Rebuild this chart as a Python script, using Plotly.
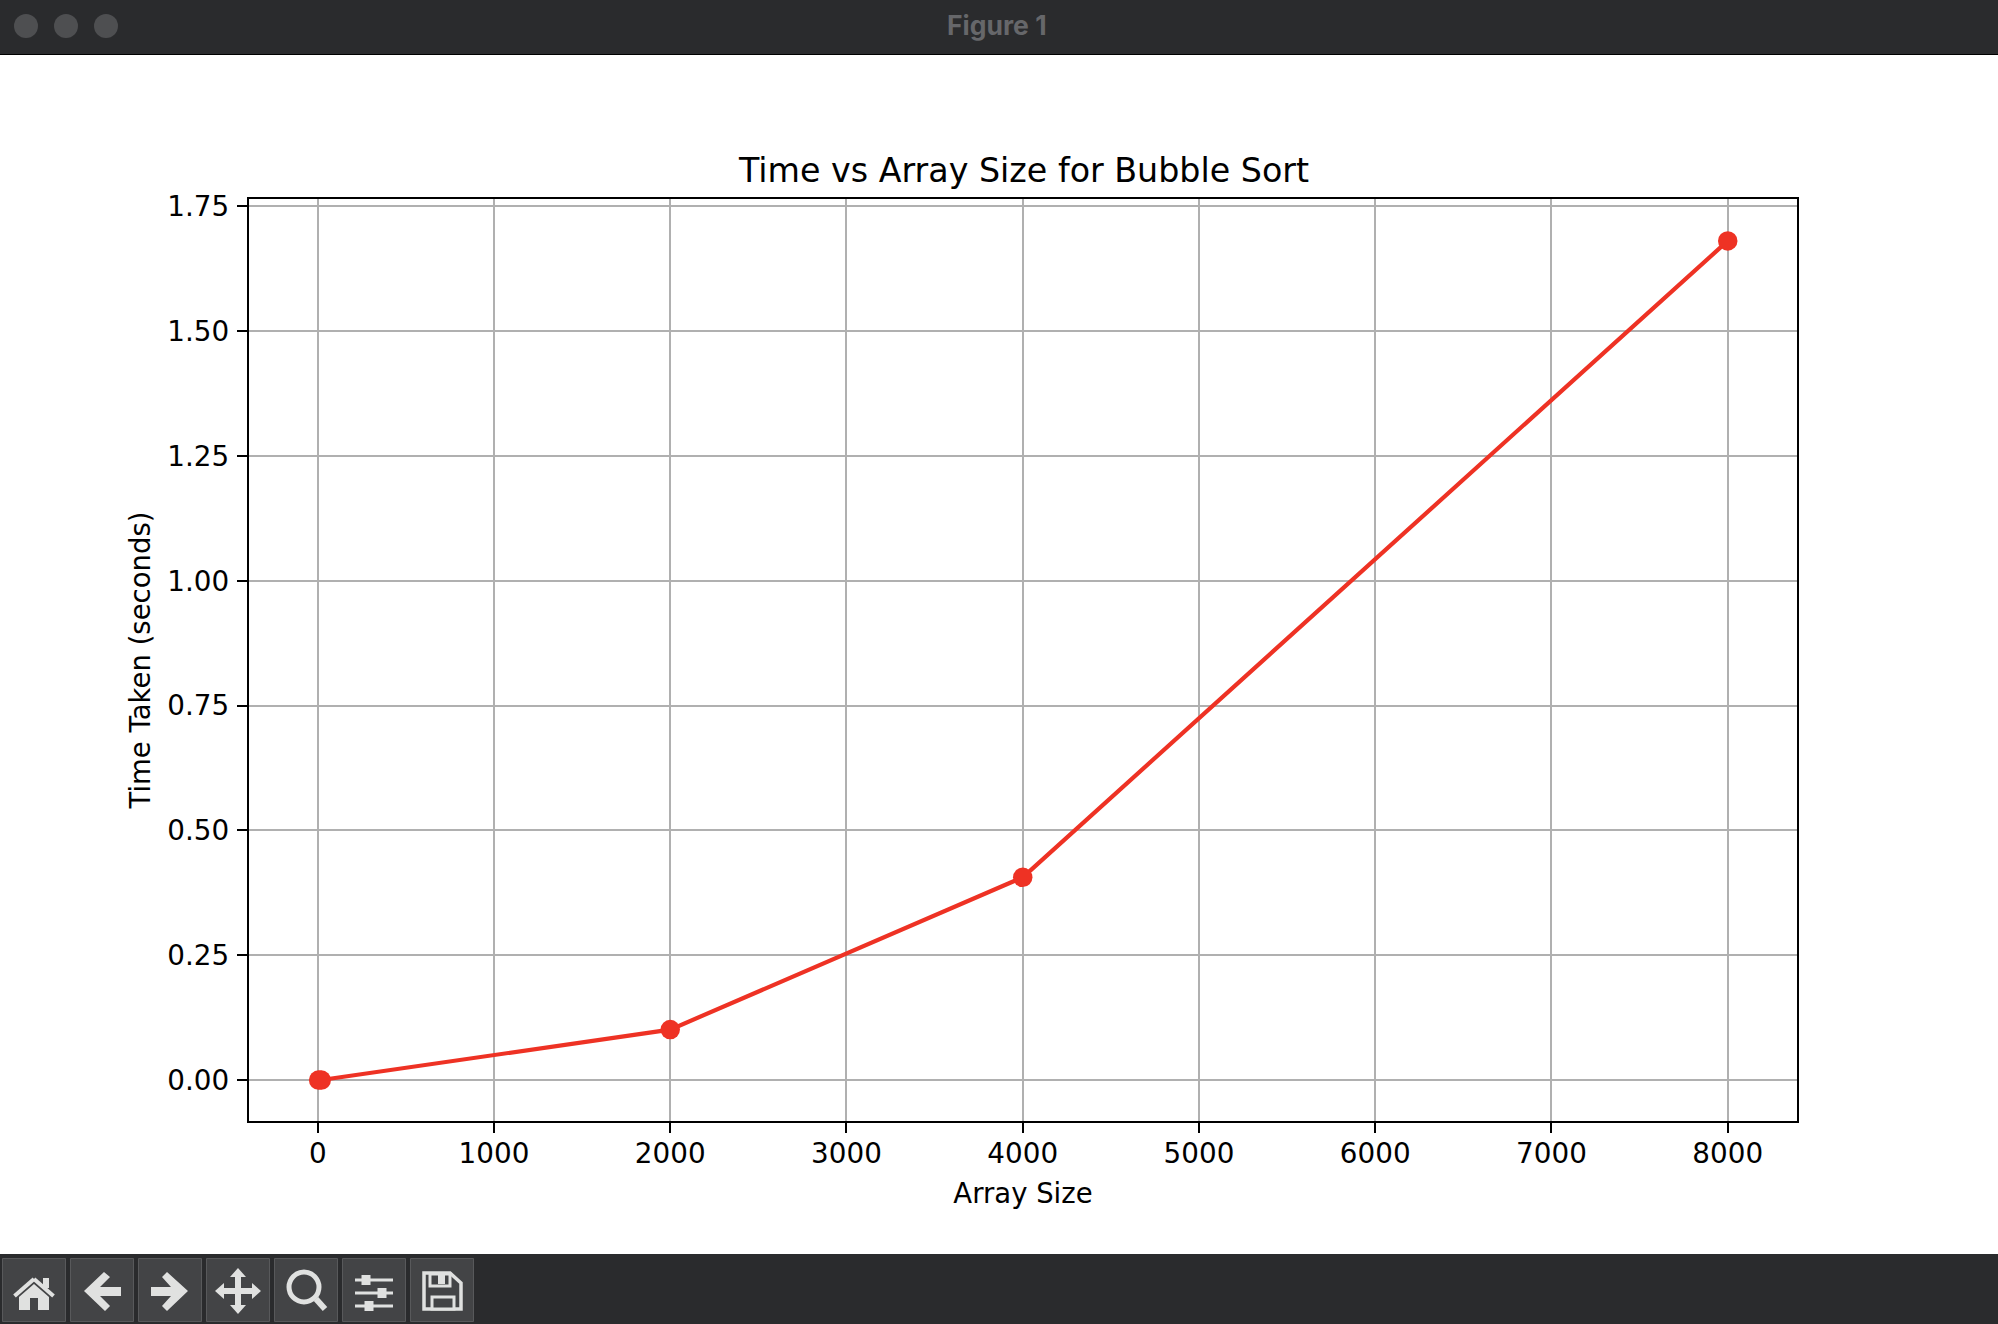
import plotly.graph_objects as go

# Data
array_sizes = [5, 20, 2000, 4000, 8000]
time_taken = [0.0, 0.0, 0.101, 0.406, 1.681]
x_ticks = [0, 1000, 2000, 3000, 4000, 5000, 6000, 7000, 8000]
y_ticks = [0.0, 0.25, 0.5, 0.75, 1.0, 1.25, 1.5, 1.75]
y_tick_labels = ["0.00", "0.25", "0.50", "0.75", "1.00", "1.25", "1.50", "1.75"]
chart_title = "Time vs Array Size for Bubble Sort"
x_title = "Array Size"
y_title = "Time Taken (seconds)"
window_title = "Figure 1"

W, H = 1998, 1324
L, R, T, B = 249, 1797, 199, 1121
FONT = "DejaVu Sans"
BAR = "#2a2b2d"
DOT = "#4e4f51"
BTN = "#434446"
BTN_EDGE = "#58595b"
ICON = "#e0e1e0"
RED = "#ee3224"
TICK_SIZE = 27.8
LABEL_SIZE = 27.5


def px(x):
    return (x - L) / (R - L)


def py(y):
    return (B - y) / (B - T)


def rect(x0, y0, x1, y1, fill, line=None, lw=0, layer="below"):
    return dict(type="rect", xref="paper", yref="paper", x0=px(x0), x1=px(x1),
                y0=py(y0), y1=py(y1), fillcolor=fill, layer=layer,
                line=dict(color=line or fill, width=lw))


def circle(cx, cy, r, fill, line=None, lw=0):
    d = rect(cx - r, cy - r, cx + r, cy + r, fill, line, lw, "above")
    d["type"] = "circle"
    return d


def path(points, fill=ICON, line=None, lw=0):
    s = ""
    for i, (x, y) in enumerate(points):
        s += ("M" if i == 0 else "L") + f"{px(x):.5f},{py(y):.5f} "
    s += "Z"
    return dict(type="path", xref="paper", yref="paper", path=s,
                fillcolor=fill, layer="above",
                line=dict(color=line or fill, width=lw))


def seg(x0, y0, x1, y1, width, color=ICON):
    return dict(type="line", xref="paper", yref="paper", x0=px(x0), x1=px(x1),
                y0=py(y0), y1=py(y1), layer="above",
                line=dict(color=color, width=width))


shapes = [
    rect(0, 0, W, 54, BAR),
    rect(0, 54, W, 55, "#000000"),
    rect(0, 1254, W, H, BAR),
    circle(26, 26, 12, DOT),
    circle(66, 26, 12, DOT),
    circle(106, 26, 12, DOT),
]
for bx in (2, 70, 138, 206, 274, 342, 410):
    shapes.append(rect(bx + 0.5, 1258.5, bx + 63.5, 1321.5, BTN, BTN_EDGE, 1, "above"))

# home
shapes.append(seg(14.5, 1296, 34, 1279, 4))
shapes.append(seg(34, 1279, 53.5, 1296, 4))
shapes.append(rect(43, 1278, 49, 1288, ICON, layer="above"))
shapes.append(path([(34, 1284), (49, 1297), (49, 1310), (38, 1310), (38, 1298), (30, 1298),
                    (30, 1310), (19, 1310), (19, 1297)]))
# back
shapes.append(path([(84, 1291), (104, 1272), (110, 1277), (100, 1287), (121, 1287), (121, 1296),
                    (100, 1296), (110, 1306), (105, 1311)]))
# forward
shapes.append(path([(188, 1291), (167, 1272), (162, 1277), (171, 1287), (151, 1287), (151, 1296),
                    (171, 1296), (162, 1306), (167, 1311)]))
# move
shapes.append(path([(238, 1268), (246, 1277), (241, 1277), (241, 1288), (252, 1288), (252, 1283),
                    (261, 1291), (252, 1299), (252, 1294), (241, 1294), (241, 1305), (246, 1305),
                    (238, 1314), (230, 1305), (235, 1305), (235, 1294), (224, 1294), (224, 1299),
                    (215, 1291), (224, 1283), (224, 1288), (235, 1288), (235, 1277), (230, 1277)]))
# zoom
shapes.append(circle(304, 1287, 15, "rgba(0,0,0,0)", ICON, 5))
shapes.append(seg(316, 1299, 325, 1309, 6))
# configure
for yy, kx in ((1280, 366), (1293, 382), (1306, 369)):
    shapes.append(seg(355, yy, 393, yy, 3))
    shapes.append(rect(kx - 4.5, yy - 5, kx + 4.5, yy + 5, ICON, layer="above"))
# save
shapes.append(path([(424, 1273), (450, 1273), (461, 1283), (461, 1309), (424, 1309)],
                   fill=BTN, line=ICON, lw=3.5))
shapes.append(path([(430, 1274), (450, 1274), (450, 1286), (430, 1286)], fill=BTN, line=ICON, lw=3))
shapes.append(rect(438, 1275, 445, 1284, ICON, layer="above"))
shapes.append(path([(432, 1309), (432, 1297), (454, 1297), (454, 1309)], fill=BTN, line=ICON, lw=3))

fig = go.Figure(
    go.Scatter(x=array_sizes, y=time_taken, mode="lines+markers",
               line=dict(color=RED, width=4.2), marker=dict(color=RED, size=19.5),
               showlegend=False, cliponaxis=True)
)

axis = dict(showgrid=True, gridcolor="#b0b0b0", gridwidth=2.2, zeroline=False,
            showline=True, mirror=True, linecolor="black", linewidth=2.4,
            ticks="outside", ticklen=10, tickwidth=2.2, tickcolor="black",
            tickfont=dict(family=FONT, size=TICK_SIZE, color="black"))

fig.update_layout(
    width=W, height=H, autosize=False,
    margin=dict(l=L, r=W - R, t=T, b=H - B, pad=0),
    paper_bgcolor="white", plot_bgcolor="white",
    font=dict(family=FONT, color="black"),
    shapes=shapes,
    annotations=[
        dict(text=chart_title, xref="paper", yref="paper", x=px(1023), y=py(170.3), yanchor="middle",
             xanchor="center", showarrow=False, font=dict(family=FONT, size=33.3, color="black")),
        dict(text=window_title, xref="paper", yref="paper", x=px(996.5), y=py(25), yanchor="middle",
             xanchor="center", showarrow=False,
             font=dict(family="Inter", size=26.5, color="#66676a", weight=700)),
    ],
)
fig.update_xaxes(axis, range=[-390, 8393], tickvals=x_ticks, ticktext=[str(v) for v in x_ticks],
                 ticklabelstandoff=-4,
                 title=dict(text=x_title, font=dict(family=FONT, size=LABEL_SIZE, color="black"), standoff=15))
fig.update_yaxes(axis, range=[-0.0821, 1.765], tickvals=y_ticks, ticktext=y_tick_labels,
                 ticklabelstandoff=2,
                 title=dict(text=y_title, font=dict(family=FONT, size=LABEL_SIZE, color="black"), standoff=9))

fig.write_html("out.html", config={"displayModeBar": False},
               post_script="document.body.style.margin='0';document.body.style.overflow='hidden';")
